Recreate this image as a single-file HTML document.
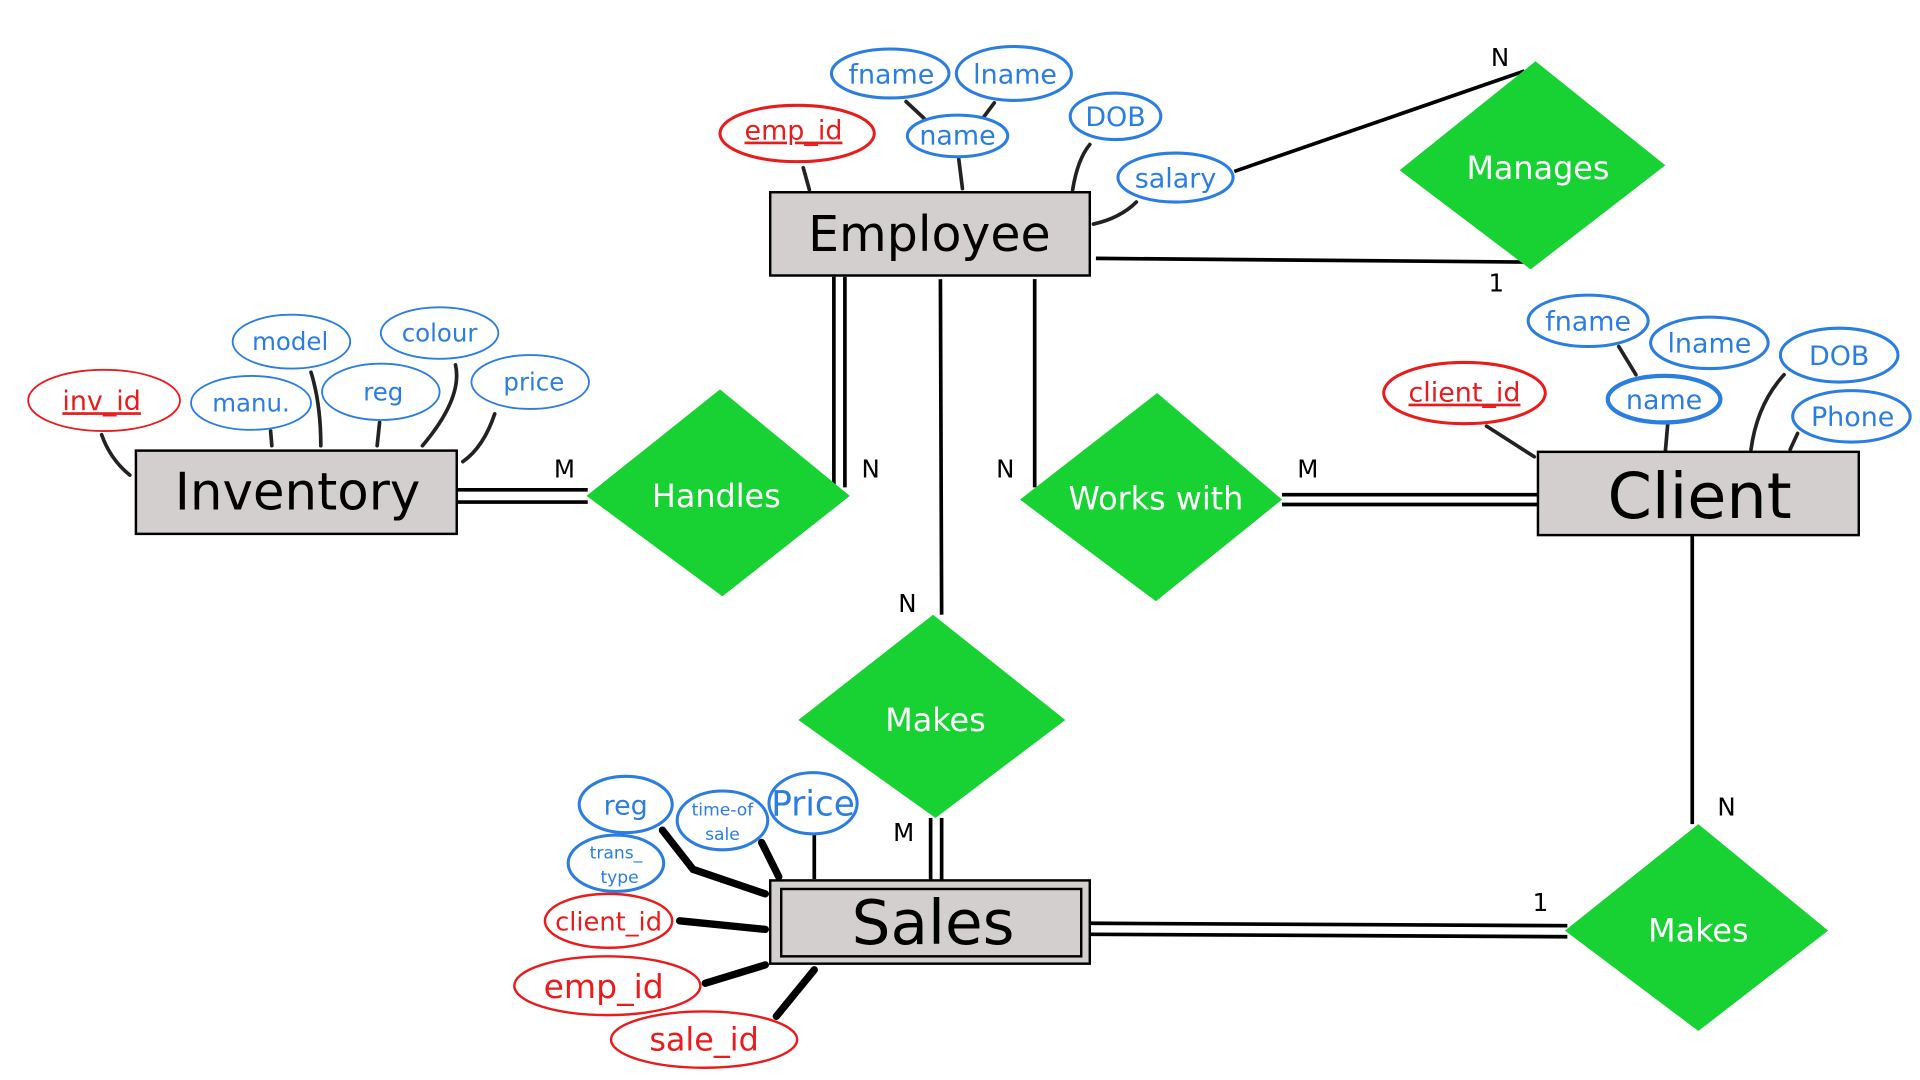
<!DOCTYPE html>
<html><head><meta charset="utf-8"><style>
html,body{margin:0;padding:0;background:#fff;}
svg{display:block;}
text{font-family:"DejaVu Sans","Liberation Sans",sans-serif;}
</style></head><body>
<svg width="1920" height="1080" viewBox="0 0 1568 882" xmlns="http://www.w3.org/2000/svg">
<rect width="1568" height="882" fill="#fff"/>
<g stroke="#000" stroke-width="3" fill="none">
<line x1="895" y1="211" x2="1245" y2="214"/>
<line x1="1008" y1="140" x2="1245" y2="58"/>
<line x1="681" y1="226" x2="681" y2="398"/><line x1="690" y1="226" x2="690" y2="398"/>
<line x1="768" y1="228" x2="769" y2="502"/>
<line x1="845" y1="228" x2="845" y2="398"/>
<line x1="373" y1="400" x2="480" y2="400"/><line x1="373" y1="410" x2="480" y2="410"/>
<line x1="1047" y1="404" x2="1256" y2="404"/><line x1="1047" y1="412" x2="1256" y2="412"/>
<line x1="760" y1="668" x2="760" y2="719"/><line x1="769" y1="668" x2="769" y2="719"/>
<line x1="1382" y1="437" x2="1382" y2="673"/>
<line x1="890" y1="754" x2="1280" y2="756"/><line x1="890" y1="763" x2="1280" y2="765"/>
</g>
<g stroke="#222" stroke-width="3" fill="none" stroke-linecap="round">
<path d="M740 83 L755 97"/><path d="M812 84 L803 96"/><path d="M656 137 L661 155"/><path d="M783 130 L786 154"/>
<path d="M890 118 Q880 130 876 155"/><path d="M928 165 Q915 178 893 183"/>
<path d="M83 355 Q90 375 106 388"/><path d="M221 352 L222 364"/><path d="M254 304 Q262 330 262 364"/>
<path d="M310 345 L308 364"/><path d="M372 298 Q378 325 345 364"/><path d="M404 338 Q395 365 378 377"/>
<path d="M1214 348 L1253 373"/><path d="M1322 283 L1336 306"/><path d="M1362 346 L1360 369"/>
<path d="M1457 306 Q1435 330 1430 367"/><path d="M1468 354 L1462 367"/>
</g>
<g stroke="#000" stroke-width="6" fill="none" stroke-linecap="round">
<path d="M541 678 L566 710 L625 730"/><path d="M622 688 L636 716"/><path d="M555 752 L625 759"/>
<path d="M576 803 L625 788"/><path d="M634 830 L665 792"/>
</g>
<line x1="665" y1="681" x2="665" y2="718" stroke="#000" stroke-width="3"/>
<g fill="#d3cfcf" stroke="#000" stroke-width="2">
<rect x="629" y="157" width="261" height="68"/>
<rect x="111" y="368" width="262" height="68"/>
<rect x="1256" y="369" width="262" height="68"/>
<rect x="629" y="719" width="261" height="68"/>
<rect x="638" y="726" width="245" height="55"/>
</g>
<g font-size="40" fill="#000" text-anchor="middle">
<text x="759" y="205">Employee</text>
<text x="243" y="416" font-size="42">Inventory</text>
<text x="1388" y="423" font-size="52">Client</text>
<text x="762" y="771" font-size="50">Sales</text>
</g>
<g fill="#17d232">
<polygon points="1254,50 1360,135 1250,220 1143,139"/>
<polygon points="588,318 694,405 590,487 479,405"/>
<polygon points="945,321 1047,408 944,491 833,408"/>
<polygon points="762,502 870,588 764,668 652,588"/>
<polygon points="1387,673 1493,760 1387,842 1278,760"/>
</g>
<g fill="#fff" font-size="26" text-anchor="middle">
<text x="1256" y="146">Manages</text>
<text x="585" y="414">Handles</text>
<text x="944" y="416">Works with</text>
<text x="764" y="597">Makes</text>
<text x="1387" y="769">Makes</text>
</g>
<g font-size="20" fill="#000" text-anchor="middle">
<text x="1222" y="238">1</text><text x="1225" y="54">N</text><text x="711" y="390">N</text>
<text x="741" y="500">N</text><text x="821" y="390">N</text><text x="461" y="390">M</text>
<text x="1068" y="390">M</text><text x="738" y="687">M</text><text x="1410" y="666">N</text>
<text x="1258" y="744">1</text>
</g>
<g fill="#fff" stroke-width="2.5">
<g stroke="#2b7de0">
<ellipse cx="727" cy="60" rx="48" ry="20"/><ellipse cx="828" cy="60" rx="47" ry="22"/>
<ellipse cx="782" cy="111" rx="41" ry="17"/><ellipse cx="911" cy="95" rx="37" ry="19"/>
<ellipse cx="960" cy="145" rx="47" ry="20"/>
<ellipse cx="1297" cy="262" rx="49" ry="21"/><ellipse cx="1396" cy="280" rx="48" ry="21"/>
<ellipse cx="1359" cy="326" rx="46" ry="19" stroke-width="3.5"/><ellipse cx="1502" cy="290" rx="48" ry="22"/>
<ellipse cx="1512" cy="340" rx="48" ry="21"/>
<ellipse cx="511" cy="657" rx="38" ry="23"/><ellipse cx="590" cy="670" rx="37" ry="24"/>
<ellipse cx="664" cy="656" rx="36" ry="25"/><ellipse cx="503" cy="705" rx="39" ry="23"/>
</g>
<g stroke="#2b7de0" stroke-width="1.5">
<ellipse cx="205" cy="329" rx="49" ry="22"/><ellipse cx="238" cy="279" rx="48" ry="22"/>
<ellipse cx="311" cy="320" rx="48" ry="23"/><ellipse cx="359" cy="272" rx="48" ry="21"/>
<ellipse cx="433" cy="312" rx="48" ry="22"/>
</g>
<g stroke="#e81c1c">
<ellipse cx="651" cy="109" rx="63" ry="23"/><ellipse cx="1196" cy="321" rx="66" ry="25"/>
<ellipse cx="85" cy="327" rx="62" ry="25" stroke-width="1.5"/>
<ellipse cx="497" cy="752" rx="52" ry="22" stroke-width="2"/><ellipse cx="496" cy="805" rx="76" ry="24" stroke-width="2"/>
<ellipse cx="575" cy="849" rx="76" ry="23" stroke-width="2"/>
</g>
</g>
<g fill="#2b7de0" text-anchor="middle" font-size="22">
<text x="728" y="68">fname</text><text x="829" y="68">lname</text><text x="782" y="118">name</text>
<text x="911" y="103">DOB</text><text x="960" y="153">salary</text>
<text x="1297" y="270">fname</text><text x="1396" y="288">lname</text><text x="1359" y="334">name</text>
<text x="1502" y="298">DOB</text><text x="1513" y="348">Phone</text>
<text x="511" y="665">reg</text><text x="664" y="666" font-size="28">Price</text>
<text x="590" y="666" font-size="14">time-of</text><text x="590" y="686" font-size="14">sale</text>
<text x="503" y="701" font-size="14">trans_</text><text x="506" y="721" font-size="14">type</text>
<g font-size="20"><text x="237" y="286">model</text><text x="205" y="336">manu.</text><text x="313" y="327">reg</text>
<text x="359" y="279">colour</text><text x="436" y="319">price</text></g>
</g>
<g fill="#e81c1c" text-anchor="middle">
<text x="648" y="114" font-size="22" text-decoration="underline">emp_id</text>
<text x="1196" y="328" font-size="22" text-decoration="underline">client_id</text>
<text x="83" y="335" font-size="22" text-decoration="underline">inv_id</text>
<text x="497" y="760" font-size="21">client_id</text>
<text x="493" y="815" font-size="27">emp_id</text>
<text x="575" y="858" font-size="26">sale_id</text>
</g>
</svg>
</body></html>
